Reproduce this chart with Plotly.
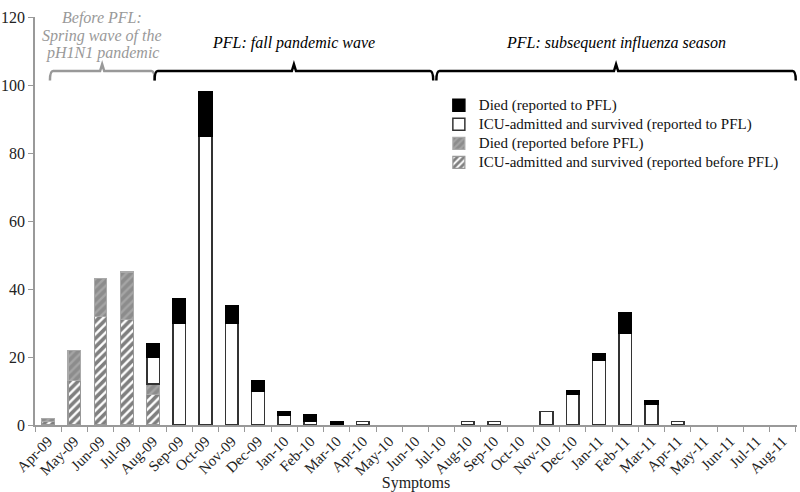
import plotly.graph_objects as go

months = ["Apr-09","May-09","Jun-09","Jul-09","Aug-09","Sep-09","Oct-09","Nov-09","Dec-09",
          "Jan-10","Feb-10","Mar-10","Apr-10","May-10","Jun-10","Jul-10","Aug-10","Sep-10",
          "Oct-10","Nov-10","Dec-10","Jan-11","Feb-11","Mar-11","Apr-11","May-11","Jun-11",
          "Jul-11","Aug-11"]
icu_before = [1,13,32,31,9,0,0,0,0,0,0,0,0,0,0,0,0,0,0,0,0,0,0,0,0,0,0,0,0]
died_before = [1,9,11,14,3,0,0,0,0,0,0,0,0,0,0,0,0,0,0,0,0,0,0,0,0,0,0,0,0]
icu_pfl = [0,0,0,0,8,30,85,30,10,3,1,0,1,0,0,0,1,1,0,4,9,19,27,6,1,0,0,0,0]
died_pfl = [0,0,0,0,4,7,13,5,3,1,2,1,0,0,0,0,0,0,0,0,1,2,6,1,0,0,0,0,0]
gray_title = ["Before PFL:", "Spring wave of the", "pH1N1 pandemic"]

FONT = "Liberation Serif"

def nz(vals):
    return [v if v else None for v in vals]

def lab(s):
    return f'<span style="font-size:15px">{s}</span>'

fig = go.Figure()
fig.add_bar(x=months, y=nz(icu_before), name=lab("ICU-admitted and survived (reported before PFL)"),
            marker=dict(color="white", line=dict(color="#999999", width=1.2),
                        pattern=dict(shape="/", fgcolor="#000000", bgcolor="white", size=6, solidity=0.6)))
fig.add_bar(x=months, y=nz(died_before), name=lab("Died (reported before PFL)"),
            marker=dict(color="#8c8c8c", line=dict(color="#aaaaaa", width=1.2),
                        pattern=dict(shape="/", fgcolor="#bdbdbd", bgcolor="#8c8c8c", size=6, solidity=0.4)))
fig.add_bar(x=months, y=nz(icu_pfl), name=lab("ICU-admitted and survived (reported to PFL)"),
            marker=dict(color="white", line=dict(color="#333333", width=1.5)))
fig.add_bar(x=months, y=nz(died_pfl), name=lab("Died (reported to PFL)"),
            marker=dict(color="black", line=dict(color="black", width=1.5)))

def bracket(x0, x1, xm, y, color):
    d = 2.8
    up = 2.0
    r = 0.12
    path = (f"M {x0},{y-d} Q {x0},{y} {x0+r},{y} L {xm-0.08},{y} L {xm},{y+up} "
            f"L {xm+0.08},{y} L {x1-r},{y} Q {x1},{y} {x1},{y-d}")
    fig.add_shape(type="path", path=path, xref="x", yref="y",
                  line=dict(color=color, width=2.5), layer="above")

bracket(0.07, 4.06, 2.06, 104.1, "#999999")
bracket(4.06, 14.68, 9.37, 104.1, "black")
bracket(14.8, 28.5, 21.65, 104.1, "black")

for txt, yy in zip(gray_title, [1.0245, 0.980, 0.938]):
    fig.add_annotation(x=2.06, y=yy, xref="x", yref="paper", showarrow=False,
                       text=f"<i>{txt}</i>",
                       font=dict(family=FONT, size=16, color="#999999"))
fig.add_annotation(x=9.37, y=112.4, xref="x", yref="y", showarrow=False,
                   text="<i>PFL: fall pandemic wave</i>",
                   font=dict(family=FONT, size=16, color="black"))
fig.add_annotation(x=21.65, y=112.4, xref="x", yref="y", showarrow=False,
                   text="<i>PFL: subsequent influenza season</i>",
                   font=dict(family=FONT, size=16, color="black"))

fig.update_layout(
    width=800, height=492,
    margin=dict(l=35, r=3, t=17, b=67),
    barmode="stack", bargap=0.52,
    plot_bgcolor="white", paper_bgcolor="white",
    font=dict(family=FONT, size=15, color="#222222"),
    showlegend=True,
    legend=dict(x=0.530, y=0.819, xanchor="left", yanchor="top",
                bgcolor="rgba(0,0,0,0)", font=dict(family=FONT, size=12, color="#111111"),
                itemwidth=30, tracegroupgap=0),
    xaxis=dict(type="category", tickangle=-45, showline=True, linecolor="#999999", linewidth=1.5,
               ticks="outside", tickson="boundaries", ticklen=5, tickcolor="#999999",
               showgrid=False, automargin=False, tickfont=dict(family=FONT, size=15, color="#222222"),
               title=dict(text="Symptoms", font=dict(family=FONT, size=16, color="#222222"), standoff=2)),
    yaxis=dict(range=[0, 120], dtick=20, showline=True, linecolor="#999999", linewidth=1.5,
               ticks="outside", ticklen=5, tickcolor="#999999", showgrid=False, zeroline=False,
               automargin=False, tickfont=dict(family=FONT, size=16, color="#222222")),
)

fig.write_html("out.html", config={"displayModeBar": False},
               post_script="document.body.style.margin='0px';")
